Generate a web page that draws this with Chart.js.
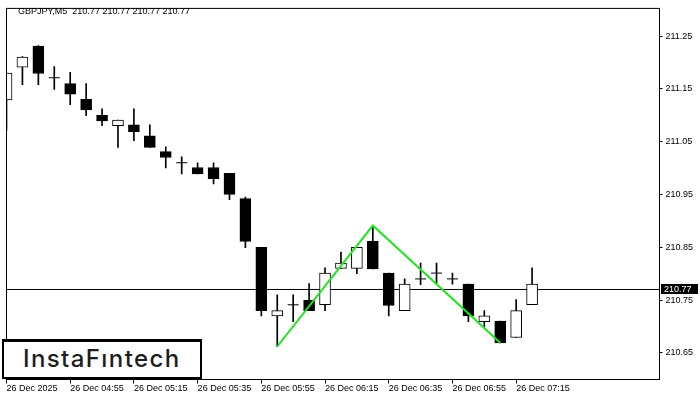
<!DOCTYPE html>
<html>
<head>
<meta charset="utf-8">
<script src="https://cdn.jsdelivr.net/npm/chart.js@4.4.1/dist/chart.umd.min.js"></script>
<style>
  html, body { margin: 0; padding: 0; background: #fff; }
  #wrap { position: relative; width: 700px; height: 400px; }
  #logo {
    position: absolute; left: 2px; top: 339px; width: 200px; height: 40px;
    box-sizing: border-box; border: 2px solid #000; border-top-width: 3px;
    background: #fff; font: 500 24px 'Inter', sans-serif; letter-spacing: 1.4px;
    color: #1e1e1e; padding-left: 19px; line-height: 34px;
  }
</style>
</head>
<body>
<div id="wrap">
  <canvas id="chart" width="700" height="400"></canvas>
  <div id="logo">InstaFıntech</div>
</div>
<script>
// 5 minute candles, 04:35 .. 07:20
const opens  = [211.129, 211.191, 211.231, 211.171, 211.160, 211.130, 211.100, 211.080, 211.082, 211.061,
                211.031, 211.010, 211.001, 211.001, 210.990, 210.942, 210.850, 210.720, 210.741, 210.750,
                210.741, 210.810, 210.810, 210.861, 210.801, 210.730, 210.790, 210.801, 210.790, 210.780,
                210.709, 210.710, 210.679, 210.741];
const highs  = [211.180, 211.211, 211.232, 211.192, 211.181, 211.160, 211.112, 211.091, 211.112, 211.082,
                211.040, 211.021, 211.010, 211.010, 210.990, 210.945, 210.850, 210.760, 210.760, 210.781,
                210.811, 210.841, 210.850, 210.891, 210.801, 210.790, 210.820, 210.820, 210.801, 210.780,
                210.730, 210.710, 210.751, 210.811];
const lows   = [211.071, 211.158, 211.158, 211.149, 211.120, 211.099, 211.080, 211.039, 211.052, 211.039,
                211.000, 210.989, 210.989, 210.970, 210.940, 210.849, 210.720, 210.662, 210.709, 210.730,
                210.730, 210.810, 210.800, 210.809, 210.720, 210.730, 210.779, 210.782, 210.780, 210.709,
                210.699, 210.669, 210.679, 210.741];
const closes = [211.180, 211.210, 211.179, 211.171, 211.140, 211.110, 211.089, 211.091, 211.069, 211.039,
                211.020, 211.010, 210.989, 210.980, 210.950, 210.861, 210.730, 210.730, 210.741, 210.730,
                210.801, 210.820, 210.850, 210.809, 210.740, 210.780, 210.790, 210.801, 210.790, 210.720,
                210.720, 210.669, 210.730, 210.780];

const timeTicks  = [0, 4, 8, 12, 16, 20, 24, 28, 32];
const timeLabels = ['26 Dec 2025', '26 Dec 04:55', '26 Dec 05:15', '26 Dec 05:35', '26 Dec 05:55',
                    '26 Dec 06:15', '26 Dec 06:35', '26 Dec 06:55', '26 Dec 07:15'];
const priceTicks = [210.65, 210.75, 210.85, 210.95, 211.05, 211.15, 211.25];

// double top pattern
const patternX = [17, 23, 31];
const patternY = [210.662, 210.891, 210.669];

const lastPrice = 210.77;
const header = 'GBPJPY,M5  210.77 210.77 210.77 210.77';

const bodies = [], dojis = [], bodyColors = [];
opens.forEach((o, i) => {
  if (o === closes[i]) {
    dojis.push({ x: i, y: o });
  } else {
    bodies.push({ x: i, y: [o, closes[i]] });
    bodyColors.push(closes[i] > o ? '#fff' : '#000');
  }
});

const framePlugin = {
  id: 'frame',
  afterDraw(chart) {
    const { ctx, chartArea: a, scales } = chart;
    ctx.save();
    ctx.strokeStyle = '#000';
    ctx.lineWidth = 1;
    ctx.strokeRect(a.left, a.top, a.right - a.left, a.bottom - a.top);

    // header text
    ctx.font = "9px 'Liberation Sans', sans-serif";
    ctx.fillStyle = '#000';
    ctx.textBaseline = 'alphabetic';
    ctx.fillText(header, 18, 13.5);

    // last price label
    const y = Math.round(scales.y.getPixelForValue(lastPrice));
    ctx.fillStyle = '#000';
    ctx.fillRect(661, y - 5, 37, 10);
    ctx.fillStyle = '#fff';
    ctx.textBaseline = 'middle';
    ctx.fillText(lastPrice.toFixed(2), 664, y + 0.5);
    ctx.restore();
  }
};

new Chart(document.getElementById('chart'), {
  data: {
    datasets: [
      {
        type: 'line',
        data: [{ x: 0, y: lastPrice }, { x: 41, y: lastPrice }],
        borderColor: '#000',
        borderWidth: 1,
        pointRadius: 0,
        order: 5
      },
      {
        type: 'bar',
        data: highs.map((h, i) => ({ x: i, y: [lows[i], h] })),
        backgroundColor: '#000',
        borderWidth: 0,
        barThickness: 1,
        grouped: false,
        order: 4
      },
      {
        type: 'bar',
        data: bodies,
        backgroundColor: bodyColors,
        borderColor: '#000',
        borderWidth: 1,
        borderSkipped: false,
        barThickness: 11,
        grouped: false,
        order: 3
      },
      {
        type: 'scatter',
        data: dojis,
        pointStyle: 'line',
        radius: 5.5,
        borderColor: '#000',
        borderWidth: 1,
        order: 3
      },
      {
        type: 'line',
        data: patternX.map((x, i) => ({ x: x, y: patternY[i] })),
        borderColor: '#1ee61e',
        borderWidth: 2,
        pointRadius: 0,
        tension: 0,
        order: 1
      }
    ]
  },
  options: {
    responsive: false,
    animation: false,
    devicePixelRatio: 1,
    layout: { padding: { left: 3.5, top: 3.5, right: 0, bottom: 0 } },
    plugins: {
      legend: { display: false },
      tooltip: { enabled: false }
    },
    scales: {
      x: {
        type: 'linear',
        position: 'bottom',
        offset: false,
        min: 0,
        max: 41,
        afterBuildTicks: (s) => { s.ticks = timeTicks.map(v => ({ value: v })); },
        afterFit: (s) => { s.height = 20.5; },
        grid: { offset: false, drawOnChartArea: false, drawTicks: true, tickLength: 4, color: '#000' },
        border: { display: true, color: '#000' },
        ticks: {
          autoSkip: false,
          maxRotation: 0,
          align: 'start',
          padding: 0,
          color: '#000',
          font: { family: "'Liberation Sans', sans-serif", size: 9 },
          callback: (v) => timeLabels[timeTicks.indexOf(v)]
        }
      },
      y: {
        type: 'linear',
        position: 'right',
        min: 210.5995,
        max: 211.3023,
        afterBuildTicks: (s) => { s.ticks = priceTicks.map(v => ({ value: v })); },
        afterFit: (s) => { s.width = 40.5; },
        grid: { drawOnChartArea: false, drawTicks: true, tickLength: 3, color: '#000' },
        border: { display: true, color: '#000' },
        ticks: {
          padding: 3,
          color: '#000',
          font: { family: "'Liberation Sans', sans-serif", size: 9 },
          callback: (v) => v.toFixed(2)
        }
      }
    }
  },
  plugins: [framePlugin]
});
</script>
</body>
</html>
